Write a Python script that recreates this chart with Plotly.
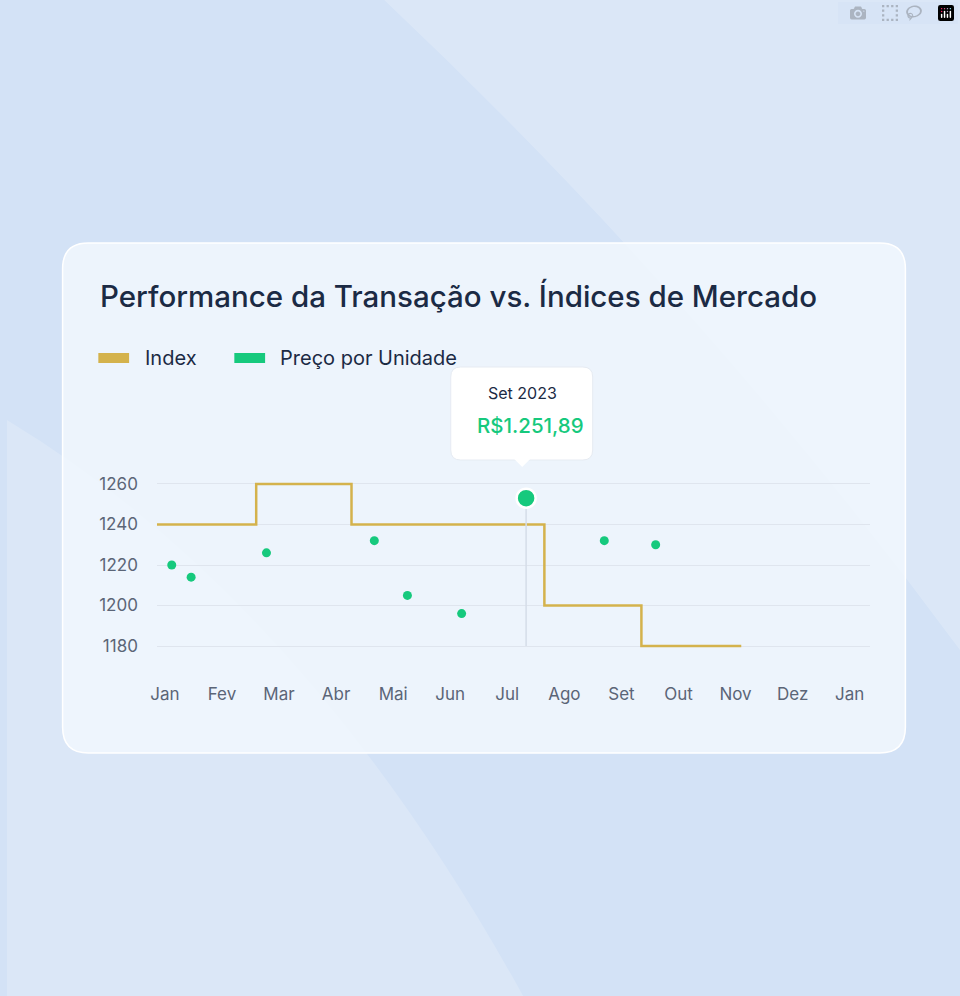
import plotly.graph_objects as go

month_labels = ["Jan","Fev","Mar","Abr","Mai","Jun","Jul","Ago","Set","Out","Nov","Dez","Jan"]
index_x = [-0.14, 1.6, 1.6, 3.27, 3.27, 6.65, 6.65, 8.35, 8.35, 10.1]
index_y = [1240, 1240, 1260, 1260, 1240, 1240, 1200, 1200, 1180, 1180]
price_x = [0.12, 0.46, 1.78, 3.67, 4.25, 5.2, 7.7, 8.6]
price_y = [1220, 1214, 1226, 1232, 1205, 1196, 1232, 1230]
hl_x = [6.33]
hl_y = [1253]
y_ticks = [1180, 1200, 1220, 1240, 1260]

W, H = 960, 996
def px(x): return x / W
def py(y): return 1 - y / H

GOLD = "#d4b24c"; GREEN = "#16c97d"; DARK = "#1b2a44"

fig = go.Figure()
fig.add_trace(go.Scatter(x=index_x, y=index_y, mode="lines", line=dict(color=GOLD, width=2.5), hoverinfo="skip"))
fig.add_trace(go.Scatter(x=price_x, y=price_y, mode="markers", marker=dict(color=GREEN, size=9), hoverinfo="skip"))
fig.add_trace(go.Scatter(x=[hl_x[0], hl_x[0]], y=[hl_y[0], 1180], mode="lines", line=dict(color="#d5dde8", width=1.5), hoverinfo="skip"))
fig.add_trace(go.Scatter(x=hl_x, y=hl_y, mode="markers", marker=dict(color=GREEN, size=19, line=dict(color="white", width=2.5)), hoverinfo="skip"))

def rrect(x0, y0, x1, y1, r):
    return (f"M {px(x0+r)},{py(y0)} L {px(x1-r)},{py(y0)} Q {px(x1)},{py(y0)} {px(x1)},{py(y0+r)} "
            f"L {px(x1)},{py(y1-r)} Q {px(x1)},{py(y1)} {px(x1-r)},{py(y1)} L {px(x0+r)},{py(y1)} "
            f"Q {px(x0)},{py(y1)} {px(x0)},{py(y1-r)} L {px(x0)},{py(y0+r)} Q {px(x0)},{py(y0)} {px(x0+r)},{py(y0)} Z")

shapes = [
    dict(type="path", xref="paper", yref="paper", layer="below",
         path=f"M 0,{py(420)} Q {px(300)},{py(600)} {px(520)},{py(996)} L 0,0 Z",
         fillcolor="rgba(255,255,255,0.18)", line=dict(width=0)),
    dict(type="path", xref="paper", yref="paper", layer="below",
         path=f"M {px(380)},1 Q {px(700)},{py(300)} {px(960)},{py(650)} L 1,1 Z",
         fillcolor="rgba(255,255,255,0.2)", line=dict(width=0)),
    dict(type="path", xref="paper", yref="paper", layer="below", path=rrect(56, 243, 905, 753, 26),
         fillcolor="rgba(240,246,253,0.9)", line=dict(color="white", width=1.5)),
    dict(type="rect", xref="paper", yref="paper", x0=px(92), x1=px(123), y0=py(353), y1=py(363), fillcolor=GOLD, line=dict(width=0)),
    dict(type="rect", xref="paper", yref="paper", x0=px(229), x1=px(260), y0=py(353), y1=py(363), fillcolor=GREEN, line=dict(width=0)),
    dict(type="path", xref="paper", yref="paper", path=rrect(447, 367, 590, 460, 10),
         fillcolor="white", line=dict(color="#e6ebf2", width=1)),
    dict(type="path", xref="paper", yref="paper",
         path=f"M {px(511)},{py(459)} L {px(519)},{py(467)} L {px(527)},{py(459)} Z",
         fillcolor="white", line=dict(width=0)),
]
ann = [
    dict(text="Performance da Transação vs. Índices de Mercado", x=px(92), y=py(296), xanchor="left", yanchor="middle",
         font=dict(size=29.5, color=DARK, weight=500)),
    dict(text="Index", x=px(137), y=py(358), xanchor="left", yanchor="middle", font=dict(size=20, color=DARK)),
    dict(text="Preço por Unidade", x=px(273), y=py(358), xanchor="left", yanchor="middle", font=dict(size=20, color=DARK)),
    dict(text="Set 2023", x=px(519), y=py(393), xanchor="center", yanchor="middle", font=dict(size=16, color=DARK)),
    dict(text="R$1.251,89", x=px(527), y=py(425), xanchor="center", yanchor="middle", font=dict(size=20.5, color=GREEN, weight=500)),
]
for a in ann:
    a.update(xref="paper", yref="paper", showarrow=False)

fig.update_layout(
    width=W, height=H, margin=dict(l=0, r=0, t=0, b=0),
    paper_bgcolor="#d3e2f6", plot_bgcolor="rgba(0,0,0,0)", showlegend=False,
    font=dict(family="Inter, sans-serif"),
    shapes=shapes, annotations=ann,
    xaxis=dict(domain=[px(151), px(869)], range=[-0.14, 12.35], tickvals=list(range(13)), ticktext=month_labels,
               showgrid=False, zeroline=False, showline=False, ticks="", ticklabelstandoff=22,
               tickfont=dict(size=17, color="#5b6577"), fixedrange=True),
    yaxis=dict(domain=[py(660), py(470)], range=[1173.1, 1266.9], tickvals=y_ticks,
               showgrid=True, gridcolor="#dfe5ee", gridwidth=1.2, zeroline=False, showline=False, ticks="",
               ticklabelstandoff=18, tickfont=dict(size=17, color="#5b6577"), fixedrange=True),
)
fig.write_html("out.html", post_script="document.body.style.margin='0';document.body.style.overflow='hidden';")
